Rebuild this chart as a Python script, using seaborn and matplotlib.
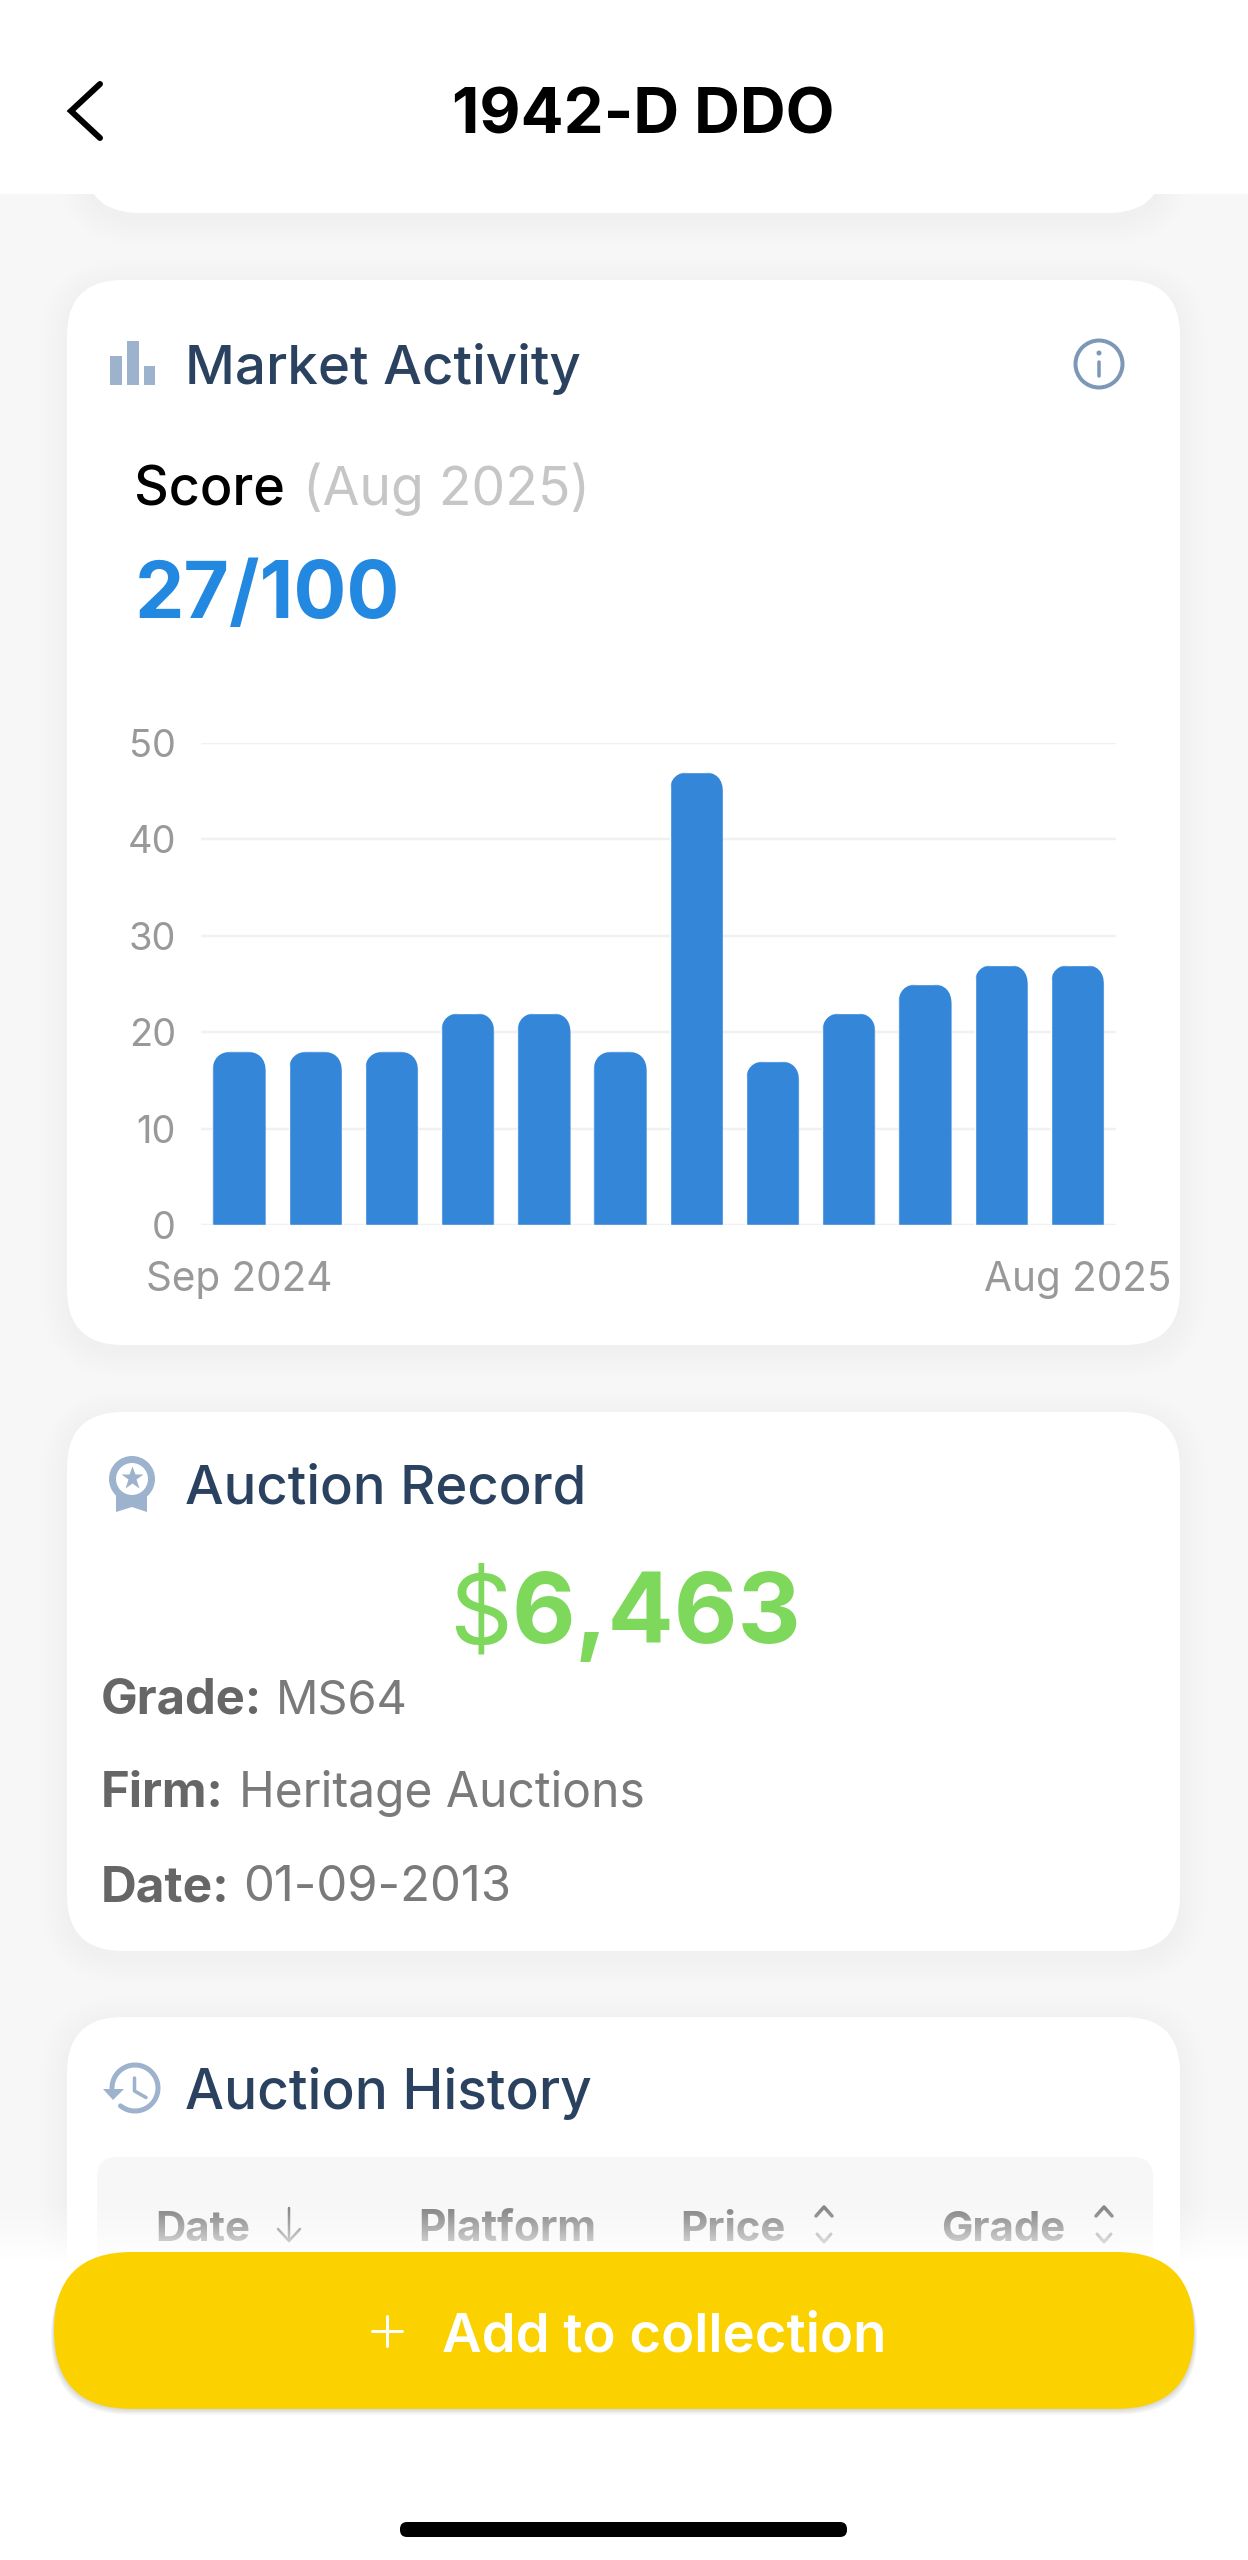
import numpy as np
import pandas as pd
import seaborn as sns
import matplotlib
matplotlib.use("Agg")
import matplotlib.pyplot as plt
from matplotlib.patches import FancyBboxPatch, Circle, Rectangle, Polygon

months = ["Sep 2024", "Oct 2024", "Nov 2024", "Dec 2024", "Jan 2025", "Feb 2025",
          "Mar 2025", "Apr 2025", "May 2025", "Jun 2025", "Jul 2025", "Aug 2025"]
scores = [18, 18, 18, 22, 22, 18, 47, 17, 22, 25, 27, 27]
y_ticks = [0, 10, 20, 30, 40, 50]
x_tick_labels = ["Sep 2024", "Aug 2025"]
W, H = 1248, 2560
FONT = "Inter"

sns.set_theme(style="white")
plt.rcParams["font.family"] = [FONT, "DejaVu Sans"]

fig = plt.figure(figsize=(W / 100, H / 100), dpi=100, facecolor="#F7F7F7")
bg = fig.add_axes([0, 0, 1, 1], zorder=0)
bg.set_xlim(0, W); bg.set_ylim(H, 0); bg.axis("off")

def px(v):
    return v * 0.72

def rrect(x0, y0, x1, y1, r, color, z=1, alpha=1.0):
    p = FancyBboxPatch((x0, y0), x1 - x0, y1 - y0, boxstyle=f"round,pad=0,rounding_size={r}",
                       fc=color, ec="none", alpha=alpha, zorder=z)
    bg.add_patch(p)
    return p

def card(x0, y0, x1, y1, r=56, z=2):
    for e in range(26, 0, -4):
        rrect(x0 - e, y0 - e + 6, x1 + e, y1 + e + 6, r + e, "#000000", z=z, alpha=0.0022)
    rrect(x0, y0, x1, y1, r, "white", z=z + 0.1)

def txt(x, y, s, size, color, weight="normal", ha="left", z=5, family=None):
    return bg.text(x, y, s, fontsize=px(size), color=color, fontweight=weight, ha=ha, va="baseline",
                   zorder=z, family=family if family else [FONT, "DejaVu Sans"])

# cards
card(84, 100, 1164, 213)
rrect(0, 0, W, 194, 0.01, "white", z=3)
card(67, 280, 1180, 1345)
card(67, 1412, 1180, 1951)
card(67, 2017, 1180, 2700)

# header
bg.plot([100, 71, 100], [84, 111, 138], color="black", lw=px(6), solid_capstyle="round",
        solid_joinstyle="miter", zorder=5)
txt(643, 133, "1942-D DDO", 63.5, "black", "bold", ha="center")

# market activity card
NAVY = "#2A4260"; ICON = "#9DB2CC"
for x0, x1, top in [(110, 122, 356), (127, 139, 341), (144, 155, 366)]:
    bg.add_patch(Rectangle((x0, top), x1 - x0, 385 - top, fc=ICON, ec="none", zorder=5))
txt(185, 384, "Market Activity", 54.7, NAVY, "medium")
bg.add_patch(Circle((1099, 364), 23.5, fc="none", ec="#7C98B6", lw=px(4), zorder=5))
bg.plot([1099, 1099], [362, 376], color="#7C98B6", lw=px(3.5), zorder=5)
bg.add_patch(Circle((1099, 353), 2.5, fc="#7C98B6", ec="none", zorder=5))
txt(134, 505, "Score", 54, "black", "medium")
txt(303, 505, "(Aug 2025)", 53.5, "#C6C6C6")
txt(135, 618, "27/100", 78.5, "#2288E0", "bold")

# chart
ax = fig.add_axes([201 / W, 1 - 1225 / H, 914.5 / W, 482 / H], zorder=2)
ax.patch.set_alpha(0)
df = pd.DataFrame({"month": months, "score": scores})
sns.barplot(data=df, x="month", y="score", color="#3486D9", saturation=1, width=0.7, ax=ax, zorder=3)
ax.set_xlim(-0.5, 11.5); ax.set_ylim(0, 50)
aspect = (914.5 / 12) / (482 / 50)
for bar in ax.patches:
    x, w, h = bar.get_x(), bar.get_width(), bar.get_height()
    clip = FancyBboxPatch((x, -6), w, h + 6, boxstyle="round,pad=0,rounding_size=0.27",
                          mutation_aspect=aspect, transform=ax.transData)
    bar.set_clip_path(clip)
ax.set_xlabel(""); ax.set_ylabel("")
ax.set_yticks(y_ticks)
ax.set_xticks([0, 11], x_tick_labels)
ax.tick_params(axis="y", length=0, pad=px(25), labelsize=px(38), labelcolor="#999999")
ax.tick_params(axis="x", length=0, pad=px(36), labelsize=px(40.5), labelcolor="#999999")
ax.grid(axis="y", color="#F1F1F1", lw=px(2.5), zorder=0)
ax.set_axisbelow(True)
sns.despine(ax=ax, left=True, bottom=True)

# auction record card
bg.add_patch(Polygon([(116, 1488), (147, 1488), (147, 1512), (132, 1507), (116, 1512)], fc=ICON, ec="none", zorder=5))
bg.add_patch(Circle((132, 1479), 19.5, fc="white", ec=ICON, lw=px(7), zorder=5.1))
bg.plot([132], [1478], marker="*", ms=px(24), color=ICON, mec="none", zorder=5.2)
txt(185, 1504, "Auction Record", 54.5, NAVY, "medium")
txt(449, 1643, "$", 98, "#7ED85C")
txt(511, 1643, "6,463", 98, "#7ED85C", "bold")
GD = "#666666"; GL = "#7A7A7A"
txt(101, 1714, "Grade:", 49, GD, "bold"); txt(276, 1714, "MS64", 47, GL)
txt(101, 1807, "Firm:", 49, GD, "bold"); txt(239, 1807, "Heritage Auctions", 48, GL)
txt(101, 1901, "Date:", 49.5, GD, "bold"); txt(243, 1901, "01-09-2013", 49, GL)

# auction history card
txt(185, 2109, "Auction History", 55, NAVY, "medium")
t = np.radians(np.linspace(129, -180, 80))
bg.plot(135 + 23 * np.cos(t), 2088 + 23 * np.sin(t), color=ICON, lw=px(5), solid_capstyle="round", zorder=5)
bg.add_patch(Polygon([(103, 2089), (124, 2089), (113, 2100)], fc=ICON, ec="none", zorder=5))
bg.plot([134.5, 134.5, 146], [2078, 2091, 2097.5], color=ICON, lw=px(3.5), zorder=5)
rrect(97, 2157, 1153, 2300, 20, "#F7F7F7", z=3)
HD = "#7D7D7D"
txt(155, 2241, "Date", 42, HD, "bold")
txt(418, 2241, "Platform", 42.5, HD, "bold")
txt(680, 2241, "Price", 42, HD, "bold")
txt(941, 2241, "Grade", 42, HD, "bold")
bg.plot([289, 289], [2208, 2241], color=HD, lw=px(2.5), zorder=5)
bg.plot([278, 289, 300], [2229, 2241, 2229], color=HD, lw=px(2.5), zorder=5)
for cx in (824, 1104):
    bg.plot([cx - 8, cx, cx + 8], [2216, 2207, 2216], color=HD, lw=px(3.5), zorder=5)
    bg.plot([cx - 7, cx, cx + 7], [2234, 2242, 2234], color="#999999", lw=px(3), zorder=5)

# fade and bottom bar
grad = np.ones((256, 1, 4))
grad[:, 0, 3] = np.linspace(0, 1, 256) ** 1.2
bg.imshow(grad, extent=(0, W, 2262, 2200), aspect="auto", zorder=6, interpolation="bilinear")
bg.add_patch(Rectangle((0, 2261), W, H - 2261, fc="white", ec="none", zorder=6))
bg.set_xlim(0, W); bg.set_ylim(H, 0)

for e in range(8, 0, -2):
    rrect(54 - e * 0.4, 2252 + e, 1194 + e * 0.4, 2409 + e * 0.7, 78, "#000000", z=7, alpha=0.035)
rrect(54, 2252, 1194, 2409, 78, "#FBD200", z=7.5)
bg.plot([372, 402], [2331, 2331], color="white", lw=px(3), zorder=8)
bg.plot([387, 387], [2316, 2346], color="white", lw=px(3), zorder=8)
txt(442, 2352, "Add to collection", 54.5, "white", "semibold", z=8)
rrect(400, 2522, 847, 2537, 7, "black", z=8)

fig.savefig("out.png", dpi=100, facecolor=fig.get_facecolor())
